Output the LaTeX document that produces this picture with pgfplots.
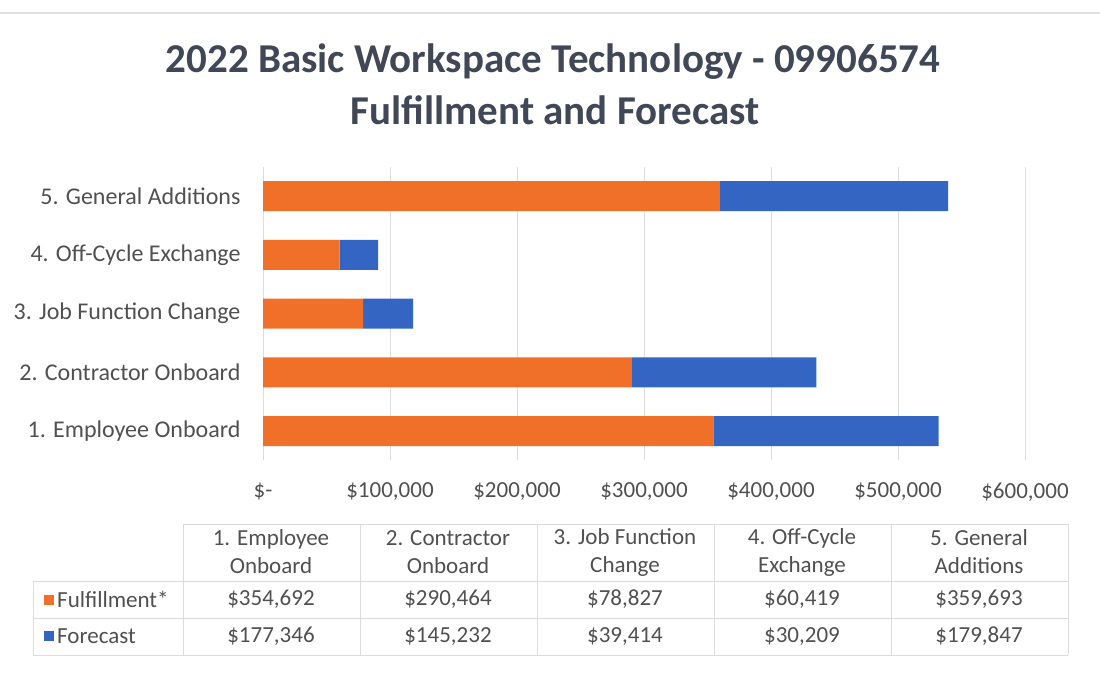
\documentclass[border=0pt]{standalone}
\usepackage{pgfplots}
\pgfplotsset{compat=1.18}
\usepackage{fontspec}
\setmainfont{Carlito}
\definecolor{barorange}{HTML}{F0702A}
\definecolor{barblue}{HTML}{3465C2}
\definecolor{titlecol}{HTML}{404756}
\definecolor{txtcol}{HTML}{505050}
\definecolor{gridcol}{HTML}{DCDCDC}
\begin{document}
\begin{tikzpicture}
\useasboundingbox (0pt,0pt) rectangle (1100pt,-672pt);
% faint top line
\draw[gray!25, line width=1.5pt] (0pt,-13pt) -- (1100pt,-13pt);
% title
\node[font=\fontsize{41}{48}\selectfont\bfseries, text=titlecol] at (553pt,-62pt) {2022 Basic Workspace Technology - 09906574};
\node[font=\fontsize{41}{48}\selectfont\bfseries, text=titlecol] at (555pt,-110pt) {Fulfillment and Forecast};
\begin{axis}[
  at={(263pt,-460.4pt)}, anchor=south west,
  scale only axis, width=762pt, height=293.75pt,
  xbar stacked, bar width=30pt,
  xmin=0, xmax=600000, ymin=0.5, ymax=5.5,
  xtick={0,100000,200000,300000,400000,500000,600000},
  xticklabels={\$-,\$100{,}000,\$200{,}000,\$300{,}000,\$400{,}000,\$500{,}000,\$600{,}000},
  scaled x ticks=false,
  ytick={1,2,3,4,5},
  yticklabels={1. Employee Onboard,2. Contractor Onboard,3. Job Function Change,4. Off-Cycle Exchange,5. General Additions},
  major tick length=0pt,
  xmajorgrids, grid style={draw=gridcol, line width=1pt},
  axis line style={draw=none},
  x tick label style={font=\fontsize{23}{28}\selectfont, text=txtcol, yshift=-19pt},
  y tick label style={font=\fontsize{24}{28}\selectfont, text=txtcol, xshift=-19pt},
  /pgf/number format/assume math mode=true,
]
\addplot[fill=barorange, draw=none] coordinates {(354692,1) (290464,2) (78827,3) (60419,4) (359693,5)};
\addplot[fill=barblue, draw=none] coordinates {(177346,1) (145232,2) (39414,3) (30209,4) (179847,5)};
\end{axis}
% data table
\begin{scope}[gridcol, line width=1pt]
\draw (183pt,-524pt) -- (1068pt,-524pt);
\draw (33pt,-581pt) -- (1068pt,-581pt);
\draw (33pt,-618pt) -- (1068pt,-618pt);
\draw (33pt,-655pt) -- (1068pt,-655pt);
\draw (33pt,-581pt) -- (33pt,-655pt);
\foreach \xx in {183,360,537,714,891,1068} {\draw (\xx pt,-524pt) -- (\xx pt,-655pt);}
\end{scope}
\begin{scope}[every node/.style={font=\fontsize{23}{28}\selectfont, text=txtcol, align=center, inner sep=0pt}]
\node at (271pt,-552pt) {1. Employee\\Onboard};
\node at (448pt,-552pt) {2. Contractor\\Onboard};
\node at (625pt,-552pt) {3. Job Function\\Change};
\node at (802pt,-552pt) {4. Off-Cycle\\Exchange};
\node at (979pt,-552pt) {5. General\\Additions};
\node at (271pt,-599.5pt) {\$354,692};
\node at (448pt,-599.5pt) {\$290,464};
\node at (625pt,-599.5pt) {\$78,827};
\node at (802pt,-599.5pt) {\$60,419};
\node at (979pt,-599.5pt) {\$359,693};
\node at (271pt,-636.5pt) {\$177,346};
\node at (448pt,-636.5pt) {\$145,232};
\node at (625pt,-636.5pt) {\$39,414};
\node at (802pt,-636.5pt) {\$30,209};
\node at (979pt,-636.5pt) {\$179,847};
\fill[barorange] (44pt,-595pt) rectangle (54pt,-605pt);
\fill[barblue] (44pt,-631pt) rectangle (54pt,-641pt);
\node[anchor=west] at (57pt,-599.5pt) {Fulfillment*};
\node[anchor=west] at (57pt,-636.5pt) {Forecast};
\end{scope}
\end{tikzpicture}
\end{document}
